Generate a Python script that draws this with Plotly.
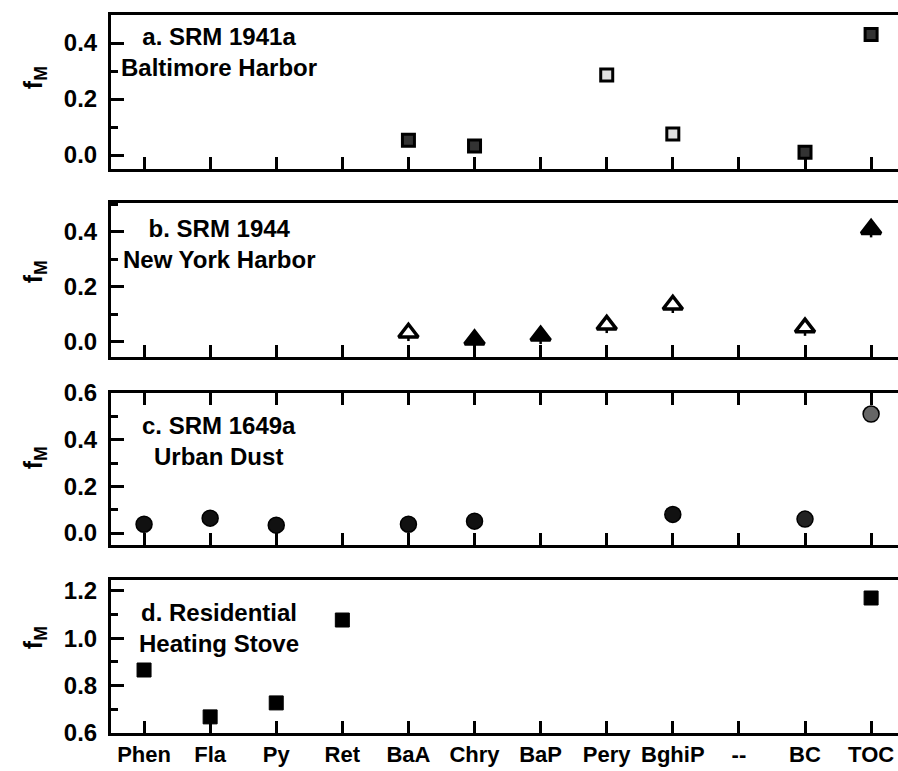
import plotly.graph_objects as go

categories = ["Phen", "Fla", "Py", "Ret", "BaA", "Chry", "BaP", "Pery", "BghiP", "--", "BC", "TOC"]

# a. SRM 1941a Baltimore Harbor
a_names = ["BaA", "Chry", "Pery", "BghiP", "BC", "TOC"]
a_vals = [0.053, 0.032, 0.286, 0.075, 0.010, 0.430]

# b. SRM 1944 New York Harbor
b_names = ["BaA", "Chry", "BaP", "Pery", "BghiP", "BC", "TOC"]
b_vals = [0.033, 0.008, 0.022, 0.062, 0.135, 0.052, 0.410]
b_err = [0.03, 0.03, 0.03, 0.03, 0.03, 0.03, 0.03]

# c. SRM 1649a Urban Dust
c_names = ["Phen", "Fla", "Py", "BaA", "Chry", "BghiP", "BC", "TOC"]
c_vals = [0.038, 0.064, 0.034, 0.038, 0.051, 0.080, 0.060, 0.510]

# d. Residential Heating Stove
d_names = ["Phen", "Fla", "Py", "Ret", "TOC"]
d_vals = [0.866, 0.668, 0.727, 1.077, 1.170]

panel_texts = ["a. SRM 1941a<br>Baltimore Harbor",
               "b. SRM 1944<br>New York Harbor",
               "c. SRM 1649a<br>Urban Dust",
               "d. Residential<br>Heating Stove"]

y_ranges = [[-0.05, 0.5], [-0.055, 0.505], [-0.051, 0.6], [0.6, 1.246]]
y_tick0 = [0.0, 0.0, 0.0, 0.6]

# styles (not data)
a_fill = ["#333", "#333", "#e0e0e0", "#e0e0e0", "#333", "#333"]
b_fill = ["white", "black", "black", "white", "white", "white", "black"]
c_fill = ["#111", "#111", "#111", "#111", "#111", "#111", "#222", "#666"]

def xpos(names):
    return [categories.index(n) for n in names]

FONT = "Liberation Sans"
W, H = 898, 771
ML, MB, MT = 111, 38, 0
plot_h = H - MB - MT
# panel pixel extents (top, bottom)
panels_px = [(15, 169), (203, 357), (393, 545), (580, 733)]
domains = [[(H - MB - b) / plot_h, (H - MB - t) / plot_h] for (t, b) in panels_px]
x_max = (898 - 144) / 66.1

fig = go.Figure()

fig.add_trace(go.Scatter(
    x=xpos(a_names), y=a_vals, mode="markers", xaxis="x", yaxis="y",
    marker=dict(symbol="square", size=12, color=a_fill, line=dict(color="black", width=3)),
    showlegend=False))

fig.add_trace(go.Scatter(
    x=xpos(b_names), y=b_vals, mode="markers", xaxis="x2", yaxis="y2",
    error_y=dict(type="data", symmetric=False, array=[0] * len(b_err), arrayminus=b_err,
                 color="black", thickness=2.5, width=0),
    marker=dict(symbol="triangle-up", size=17, color=b_fill, line=dict(color="black", width=3.5)),
    showlegend=False))

fig.add_trace(go.Scatter(
    x=xpos(c_names), y=c_vals, mode="markers", xaxis="x3", yaxis="y3",
    marker=dict(symbol="circle", size=16, color=c_fill, line=dict(color="black", width=1.5)),
    showlegend=False))

fig.add_trace(go.Scatter(
    x=xpos(d_names), y=d_vals, mode="markers", xaxis="x4", yaxis="y4",
    marker=dict(symbol="square", size=14, color="black", line=dict(color="black", width=1)),
    showlegend=False))

layout = dict(
    width=W, height=H,
    margin=dict(l=ML, r=0, t=MT, b=MB, pad=0),
    paper_bgcolor="white", plot_bgcolor="white",
    font=dict(family=FONT, size=22, color="black"),
    showlegend=False,
)

annotations = []
for i in range(4):
    n = "" if i == 0 else str(i + 1)
    xa = "xaxis" + n
    ya = "yaxis" + n
    layout[xa] = dict(
        domain=[0, 1], anchor="y" + n, range=[-0.5, x_max],
        tickmode="array", tickvals=list(range(len(categories))), ticktext=categories,
        showticklabels=(i == 3), ticks="inside", ticklen=12, tickwidth=3, tickcolor="black",
        showline=True, linewidth=3, linecolor="black",
        mirror=("ticks" if i == 2 else True),
        showgrid=False, zeroline=False, automargin=False,
        tickfont=dict(family=FONT, size=22, color="black", weight="bold"),
    )
    layout[ya] = dict(
        domain=domains[i], anchor="x" + n, range=y_ranges[i],
        tick0=y_tick0[i], dtick=0.2, tickformat=".1f",
        ticks="inside", ticklen=13, tickwidth=3, tickcolor="black",
        minor=dict(dtick=0.1, tick0=y_tick0[i], ticks="inside", ticklen=7, tickwidth=2.5, tickcolor="black"),
        showline=True, linewidth=3, linecolor="black", mirror=False,
        showgrid=False, zeroline=False, automargin=False, ticklabelstandoff=6,
        tickfont=dict(family=FONT, size=24, color="black", weight="bold"),
    )
    # right side ticks (frame edge is cut by the image border)
    rn = str(i + 5)
    layout["yaxis" + rn] = dict(
        overlaying="y" + n, side="right", anchor="x" + n, range=y_ranges[i],
        tick0=y_tick0[i], dtick=0.2, showticklabels=False,
        ticks="inside", ticklen=7, tickwidth=3, tickcolor="black",
        minor=dict(dtick=0.1, tick0=y_tick0[i], ticks="inside", ticklen=2, tickwidth=2.5, tickcolor="black"),
        showline=False, showgrid=False, zeroline=False, automargin=False,
    )
    annotations.append(dict(
        text=panel_texts[i], xref="x" + n + " domain", yref="y" + n + " domain",
        x=(219 - ML) / (W - ML), y=[0.76, 0.737, 0.681, 0.686][i],
        xanchor="center", yanchor="middle", showarrow=False, align="center",
        font=dict(family=FONT, size=24, color="black", weight="bold"),
    ))
    annotations.append(dict(
        text="f<sub>M</sub>", xref="paper", yref="y" + n + " domain",
        x=(35 - ML) / (W - ML), y=[0.59, 0.55, 0.57, 0.62][i],
        xanchor="center", yanchor="middle", showarrow=False, textangle=-90,
        font=dict(family=FONT, size=25, color="black", weight="bold"),
    ))

layout["annotations"] = annotations
fig.update_layout(**layout)

fig.write_html("out.html")
